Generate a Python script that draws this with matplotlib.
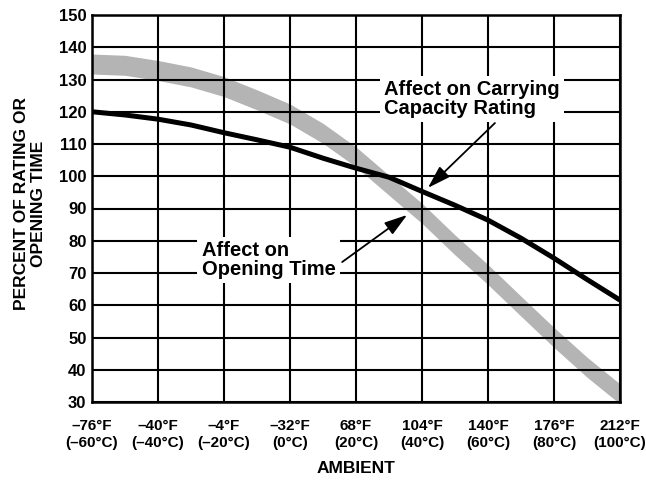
import numpy as np
import matplotlib
matplotlib.use('Agg')
import matplotlib.pyplot as plt

plt.rcParams['font.family'] = ['Liberation Sans', 'DejaVu Sans']

# Ambient temperature in degrees C, read every 10 degrees from the chart.
ambient_c = [-60, -50, -40, -30, -20, -10, 0, 10, 20, 30, 40, 50, 60, 70, 80, 90, 100]

# Affect on carrying capacity rating (black curve).
carrying = [120, 119, 117.7, 115.9, 113.5, 111.3, 109.0, 105.6, 102.5,
            99.7, 95.3, 91.0, 86.4, 80.8, 74.6, 68.0, 61.6]

# Affect on opening time (grey band, centre line and half width).
opening = [134.8, 134.4, 132.8, 130.8, 127.8, 123.7, 119.3, 113.3, 106.0,
           97.2, 88.5, 78.7, 69.5, 59.7, 50.0, 40.8, 32.5]
band_half = 3.1

tick_pos = [-60, -40, -20, 0, 20, 40, 60, 80, 100]
tick_labels = ['\u201376\u00b0F\n(\u201360\u00b0C)', '\u201340\u00b0F\n(\u201340\u00b0C)',
               '\u20134\u00b0F\n(\u201320\u00b0C)', '\u201332\u00b0F\n(0\u00b0C)',
               '68\u00b0F\n(20\u00b0C)', '104\u00b0F\n(40\u00b0C)', '140\u00b0F\n(60\u00b0C)',
               '176\u00b0F\n(80\u00b0C)', '212\u00b0F\n(100\u00b0C)']
y_ticks = list(range(30, 151, 10))

fig = plt.figure(figsize=(6.46, 4.82), dpi=100)
ax = fig.add_axes([92 / 646, 80 / 482, 528 / 646, 387 / 482])

op = np.array(opening)
ax.fill_between(ambient_c, op - band_half, op + band_half, color='#b4b4b4',
                linewidth=0, zorder=1)
ax.plot(ambient_c, carrying, color='black', linewidth=3.6, zorder=2,
        solid_capstyle='butt')

ax.set_xlim(-60, 100)
ax.set_ylim(30, 150)
ax.set_xticks(tick_pos)
ax.set_xticklabels(tick_labels, fontsize=11, fontweight='bold', linespacing=1.3)
ax.set_yticks(y_ticks)
ax.set_yticklabels([str(v) for v in y_ticks], fontsize=12, fontweight='bold')
ax.tick_params(axis='both', length=0)
ax.tick_params(axis='x', pad=12)
ax.tick_params(axis='y', pad=4)

ax.set_axisbelow('line')
ax.grid(True, color='black', linewidth=1.5)
for s in ax.spines.values():
    s.set_linewidth(1.8)

ax.set_xlabel('AMBIENT', fontsize=12.5, fontweight='bold', labelpad=8)
fig.text(30 / 646, 1 - 204 / 482, 'PERCENT OF RATING OR\nOPENING TIME',
         rotation=90, ha='center', va='center', multialignment='center',
         fontsize=12.5, fontweight='bold', linespacing=1.2)

box = dict(facecolor='white', edgecolor='none', pad=3)
ax.text(28.5, 124.0, 'Affect on Carrying\nCapacity Rating', fontsize=14.5,
        fontweight='bold', ha='left', va='center', linespacing=1.0,
        bbox=box, zorder=3)
ax.text(-26.8, 74.0, 'Affect on\nOpening Time', fontsize=14.5,
        fontweight='bold', ha='left', va='center', linespacing=1.0,
        bbox=box, zorder=3)

arrow = dict(arrowstyle='-|>,head_length=0.7,head_width=0.22', color='black',
             linewidth=1.3, shrinkA=0, shrinkB=0, mutation_scale=20)
ax.annotate('', xy=(41.8, 96.4), xytext=(62.1, 116.5), arrowprops=arrow, zorder=4)
ax.annotate('', xy=(35.5, 88.0), xytext=(15.8, 73.4), arrowprops=arrow, zorder=4)

fig.savefig('out.png', dpi=100)
